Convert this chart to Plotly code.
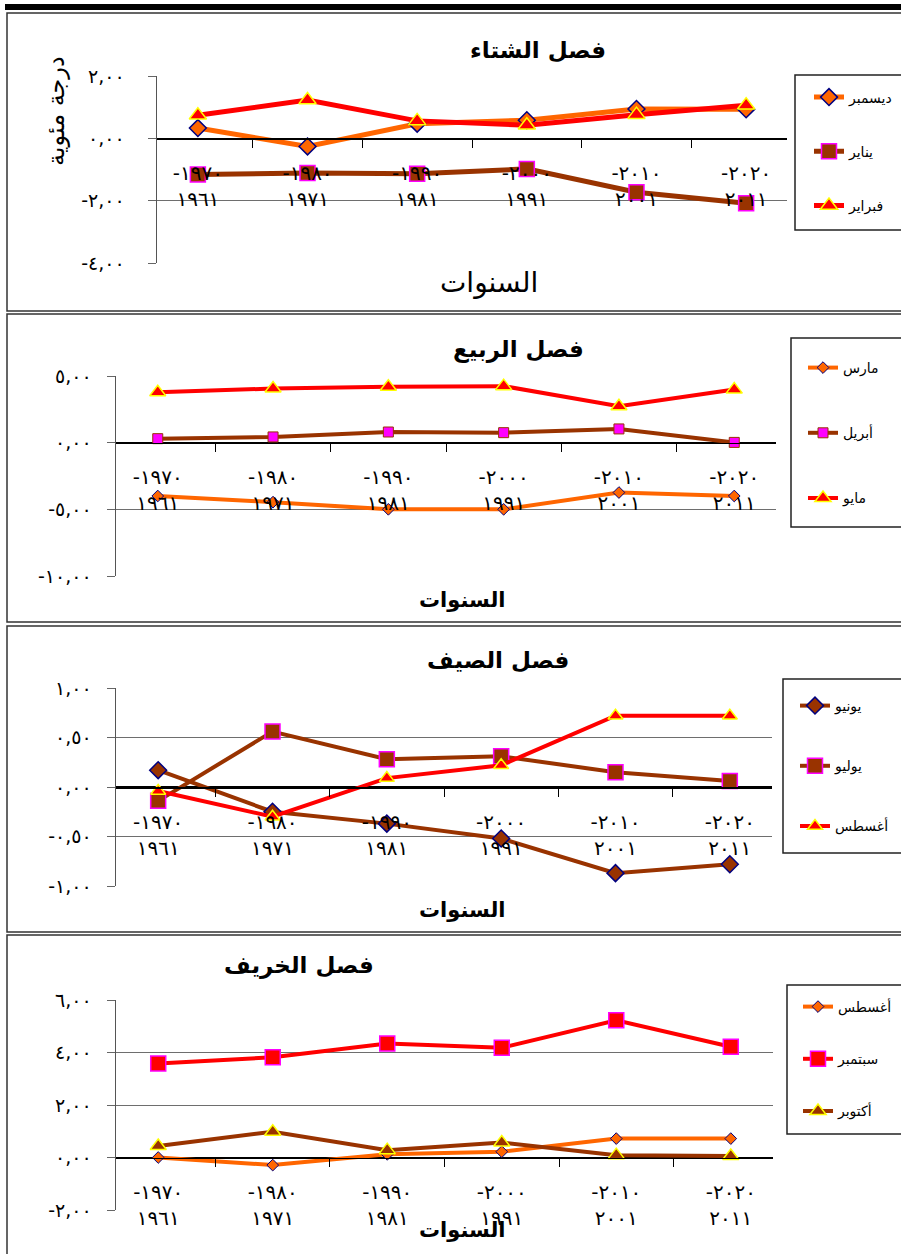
import plotly.graph_objects as go

W, H = 901, 1254
OFF = 0  # body margin removed via post_script, so paper maps 1:1 onto the window

# ---------------- data ----------------
period_start = ["١٩٦١", "١٩٧١", "١٩٨١", "١٩٩١", "٢٠٠١", "٢٠١١"]
period_end = ["١٩٧٠", "١٩٨٠", "١٩٩٠", "٢٠٠٠", "٢٠١٠", "٢٠٢٠"]
categories = [f"-{e}<br>{s}" for s, e in zip(period_start, period_end)]

winter_names = ["ديسمبر", "يناير", "فبراير"]
winter_dec = [0.33, -0.26, 0.47, 0.58, 0.94, 0.93]
winter_jan = [-1.16, -1.11, -1.14, -0.98, -1.73, -2.08]
winter_feb = [0.74, 1.23, 0.56, 0.42, 0.76, 1.06]

spring_names = ["مارس", "أبريل", "مايو"]
spring_mar = [-4.0, -4.46, -5.0, -5.0, -3.74, -4.0]
spring_apr = [0.30, 0.43, 0.80, 0.75, 1.03, 0.02]
spring_may = [3.78, 4.06, 4.19, 4.24, 2.73, 3.98]

summer_names = ["يونيو", "يوليو", "أغسطس"]
summer_jun = [0.17, -0.25, -0.37, -0.52, -0.87, -0.78]
summer_jul = [-0.14, 0.56, 0.28, 0.31, 0.15, 0.06]
summer_aug = [-0.04, -0.30, 0.09, 0.22, 0.72, 0.72]

autumn_names = ["أغسطس", "سبتمبر", "أكتوبر"]
autumn_aug = [0.0, -0.29, 0.12, 0.22, 0.72, 0.72]
autumn_sep = [3.58, 3.82, 4.34, 4.18, 5.23, 4.22]
autumn_oct = [0.44, 0.98, 0.28, 0.57, 0.09, 0.06]

titles = ["فصل الشتاء", "فصل الربيع", "فصل الصيف", "فصل الخريف"]
x_title = "السنوات"
y_title = "درجة مئوية"

y_ticks = [
    ([-4, -2, 0, 2], ["-٤,٠٠", "-٢,٠٠", "٠,٠٠", "٢,٠٠"]),
    ([-10, -5, 0, 5], ["-١٠,٠٠", "-٥,٠٠", "٠,٠٠", "٥,٠٠"]),
    ([-1, -0.5, 0, 0.5, 1], ["-١,٠٠", "-٠,٥٠", "٠,٠٠", "٠,٥٠", "١,٠٠"]),
    ([-2, 0, 2, 4, 6], ["-٢,٠٠", "٠,٠٠", "٢,٠٠", "٤,٠٠", "٦,٠٠"]),
]

# ---------------- styles ----------------
ORANGE, BROWN, RED = "#FF6600", "#993300", "#FF0000"
NAVY, MAGENTA, YELLOW = "#000080", "#FF00FF", "#FFFF00"
FONT = "DejaVu Sans"


def px(x):
    return (x - OFF) / W


def py(y):
    return 1 - (y - OFF) / H


def sty(lc, lw, sym, size, fill, edge, ew=1.5):
    return dict(line=dict(color=lc, width=lw),
                marker=dict(symbol=sym, size=size, color=fill,
                            line=dict(color=edge, width=ew)))


panels = [
    dict(series=[(winter_names[0], winter_dec, sty(ORANGE, 5, "diamond", 13, ORANGE, NAVY)),
                 (winter_names[1], winter_jan, sty(BROWN, 5, "square", 15, BROWN, MAGENTA)),
                 (winter_names[2], winter_feb, sty(RED, 5, "triangle-up", 15, RED, YELLOW))],
         dx=(157, 787), dy=(76, 263), title_xy=(538, 50),
         leg_box=(795, 75, 230), leg_mid=151.5, leg_x=809, gap=33,
         std=19),
    dict(series=[(spring_names[0], spring_mar, sty(ORANGE, 4, "diamond", 9, ORANGE, NAVY, 1)),
                 (spring_names[1], spring_apr, sty(BROWN, 4, "square", 10, MAGENTA, BROWN, 1)),
                 (spring_names[2], spring_may, sty(RED, 4, "triangle-up", 14, RED, YELLOW))],
         dx=(116, 776), dy=(376, 576), title_xy=(518, 349),
         leg_box=(791, 338, 527), leg_mid=433, leg_x=803, gap=44,
         std=11),
    dict(series=[(summer_names[0], summer_jun, sty(BROWN, 4, "diamond", 13, BROWN, NAVY)),
                 (summer_names[1], summer_jul, sty(BROWN, 4, "square", 15, BROWN, MAGENTA)),
                 (summer_names[2], summer_aug, sty(RED, 4, "triangle-up", 13, RED, YELLOW))],
         dx=(116, 772), dy=(688, 886), title_xy=(498, 660),
         leg_box=(783, 679, 853), leg_mid=766, leg_x=795, gap=39,
         std=11),
    dict(series=[(autumn_names[0], autumn_aug, sty(ORANGE, 4, "diamond", 9, ORANGE, NAVY, 1)),
                 (autumn_names[1], autumn_sep, sty(RED, 4, "square", 15, RED, MAGENTA)),
                 (autumn_names[2], autumn_oct, sty(BROWN, 4, "triangle-up", 14, BROWN, YELLOW))],
         dx=(116, 773), dy=(1000, 1210), title_xy=(299, 965),
         leg_box=(787, 985, 1134), leg_mid=1059, leg_x=798, gap=31,
         std=11),
]

fig = go.Figure()
layout = dict(
    width=W, height=H, paper_bgcolor="white", plot_bgcolor="white",
    margin=dict(l=0, r=0, t=0, b=0, autoexpand=False),
    font=dict(family=FONT, color="black"),
    showlegend=True, shapes=[], annotations=[],
)

for i, p in enumerate(panels):
    n = i + 1
    sfx = "" if n == 1 else str(n)
    xa, ya = "x" + sfx, "y" + sfx
    leg = "legend" + sfx
    tv, tt = y_ticks[i]
    lo, hi = tv[0], tv[-1]
    for j, (name, vals, st) in enumerate(p["series"]):
        fig.add_trace(go.Scatter(
            x=categories, y=vals, name=name, mode="lines+markers",
            xaxis=xa, yaxis=ya, legend=leg, legendgroup=f"p{n}s{j}",
            line=st["line"], marker=st["marker"], cliponaxis=False,
        ))
    y0d, y1d = py(p["dy"][1]), py(p["dy"][0])
    zero_pos = y0d + (0 - lo) / (hi - lo) * (y1d - y0d)
    layout["xaxis" + sfx] = dict(
        domain=[px(p["dx"][0]), px(p["dx"][1])], type="category",
        anchor="free", position=zero_pos,
        showline=True, linecolor="black", linewidth=1.5,
        ticks="outside", tickson="boundaries", ticklen=8, tickcolor="black",
        showgrid=False, tickfont=dict(size=20, family=FONT),
        ticklabelstandoff=16, fixedrange=True,
    )
    layout["yaxis" + sfx] = dict(
        domain=[y0d, y1d], anchor=xa, range=[lo, hi],
        tickmode="array", tickvals=tv, ticktext=tt,
        showgrid=True, gridcolor="#6e6e6e", gridwidth=1,
        zeroline=True, zerolinecolor="black", zerolinewidth=1.5,
        showline=True, linecolor="#555", linewidth=1.5,
        ticks="outside", ticklen=8, tickcolor="#666",
        tickfont=dict(size=19, family=FONT),
        ticklabelstandoff=p["std"], fixedrange=True,
    )
    layout[leg] = dict(
        x=px(p["leg_x"]), xanchor="left", y=py(p["leg_mid"]), yanchor="middle",
        bgcolor="rgba(0,0,0,0)", borderwidth=0,
        font=dict(size=14, family=FONT), tracegroupgap=p["gap"],
        itemclick=False, itemdoubleclick=False,
    )
    bx, by0, by1 = p["leg_box"]
    layout["shapes"].append(dict(type="rect", xref="paper", yref="paper",
                                 x0=px(bx), x1=px(bx + 130), y0=py(by1), y1=py(by0),
                                 line=dict(color="#222", width=1.5)))
    tx, ty = p["title_xy"]
    layout["annotations"].append(dict(
        text=f"<b>{titles[i]}</b>", x=px(tx), y=py(ty), xref="paper", yref="paper",
        xanchor="center", yanchor="middle", showarrow=False,
        font=dict(size=23, family=FONT)))

# x-axis titles
layout["annotations"].append(dict(text=x_title, x=px(489), y=py(283), xref="paper", yref="paper",
                                  xanchor="center", yanchor="middle", showarrow=False,
                                  font=dict(size=28, family=FONT)))
for yy in (600, 910, 1230):
    layout["annotations"].append(dict(text=f"<b>{x_title}</b>", x=px(462), y=py(yy),
                                      xref="paper", yref="paper", xanchor="center",
                                      yanchor="middle", showarrow=False,
                                      font=dict(size=21, family=FONT)))
# y-axis title (panel 1)
layout["annotations"].append(dict(text=y_title, x=px(56), y=py(111), xref="paper", yref="paper",
                                  xanchor="center", yanchor="middle", textangle=-90,
                                  showarrow=False, font=dict(size=24, family=FONT)))

# panel frames and top rule
frames = [(13, 311), (314, 622), (626, 932), (935, 1270)]
for (a, b) in frames:
    layout["shapes"].append(dict(type="rect", xref="paper", yref="paper",
                                 x0=px(7), x1=px(925), y0=py(b), y1=py(a),
                                 line=dict(color="#333", width=1.5)))
layout["shapes"].append(dict(type="rect", xref="paper", yref="paper",
                             x0=px(5), x1=px(925), y0=py(10), y1=py(4),
                             fillcolor="black", line=dict(width=0)))

fig.update_layout(**layout)
fig.write_html("out.html",
               config={"displayModeBar": False, "staticPlot": True},
               post_script="document.body.style.margin='0';document.body.style.overflow='hidden';")
